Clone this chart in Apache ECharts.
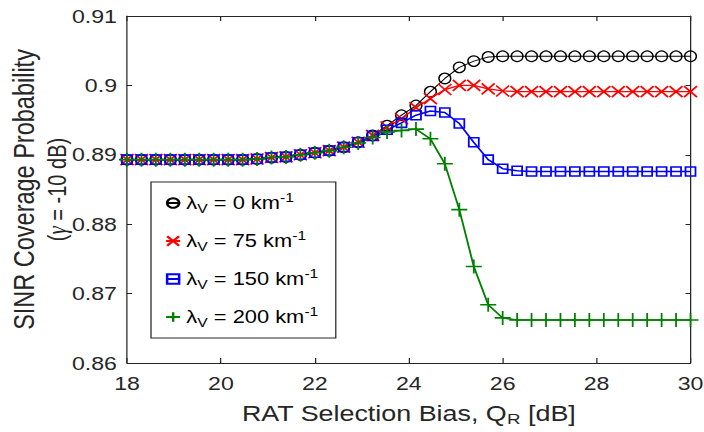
<!DOCTYPE html>
<html>
<head>
<meta charset="utf-8">
<script src="https://cdn.jsdelivr.net/npm/echarts@6/dist/echarts.min.js"></script>
<style>
  html, body { margin: 0; padding: 0; background: #fff; overflow: hidden; }
  /* the figure is laid out narrow and widened horizontally, like the exported plot */
  #chart { width: 563.2px; height: 432px; transform: scaleX(1.25); transform-origin: 0 0; }
</style>
</head>
<body>
<div id="chart"></div>
<script>
// RAT selection bias Q_R [dB] (40 evaluation points)
const biasDb = [
  18.000, 18.308, 18.615, 18.923, 19.231, 19.538, 19.846, 20.154, 20.462, 20.769,
  21.077, 21.385, 21.692, 22.000, 22.308, 22.615, 22.923, 23.231, 23.538, 23.846,
  24.154, 24.462, 24.769, 25.077, 25.385, 25.692, 26.000, 26.308, 26.615, 26.923,
  27.231, 27.538, 27.846, 28.154, 28.462, 28.769, 29.077, 29.385, 29.692, 30.000
];

// SINR coverage probability (gamma = -10 dB) for each vehicle density
const covLambda0 = [
  0.8893, 0.8893, 0.8893, 0.8893, 0.8893, 0.8893, 0.8893, 0.8893, 0.8893, 0.8894,
  0.8896, 0.8897, 0.8900, 0.8903, 0.8906, 0.8911, 0.8918, 0.8928, 0.8942, 0.8957,
  0.8971, 0.8991, 0.9010, 0.9026, 0.9035, 0.9041, 0.9042, 0.9042, 0.9042, 0.9042,
  0.9042, 0.9042, 0.9042, 0.9042, 0.9042, 0.9042, 0.9042, 0.9042, 0.9042, 0.9042
];
const covLambda75 = [
  0.8893, 0.8893, 0.8893, 0.8893, 0.8893, 0.8893, 0.8893, 0.8893, 0.8893, 0.8894,
  0.8896, 0.8897, 0.8900, 0.8903, 0.8906, 0.8911, 0.8918, 0.8928, 0.8940, 0.8952,
  0.8968, 0.8981, 0.8994, 0.9000, 0.9000, 0.8995, 0.8992, 0.8991, 0.8991, 0.8991,
  0.8991, 0.8991, 0.8991, 0.8991, 0.8991, 0.8991, 0.8991, 0.8991, 0.8991, 0.8991
];
const covLambda150 = [
  0.8893, 0.8893, 0.8893, 0.8893, 0.8893, 0.8893, 0.8893, 0.8893, 0.8893, 0.8894,
  0.8896, 0.8897, 0.8900, 0.8903, 0.8906, 0.8911, 0.8918, 0.8927, 0.8936, 0.8946,
  0.8957, 0.8963, 0.8961, 0.8945, 0.8918, 0.8893, 0.8880, 0.8877, 0.8876, 0.8876,
  0.8876, 0.8876, 0.8876, 0.8876, 0.8876, 0.8876, 0.8876, 0.8876, 0.8876, 0.8876
];
const covLambda200 = [
  0.8893, 0.8893, 0.8893, 0.8893, 0.8893, 0.8893, 0.8893, 0.8893, 0.8893, 0.8894,
  0.8896, 0.8897, 0.8900, 0.8903, 0.8906, 0.8911, 0.8917, 0.8925, 0.8933, 0.8935,
  0.8937, 0.8923, 0.8887, 0.8821, 0.8739, 0.8684, 0.8665, 0.8662, 0.8662, 0.8662,
  0.8662, 0.8662, 0.8662, 0.8662, 0.8662, 0.8662, 0.8662, 0.8662, 0.8662, 0.8662
];

// vehicle densities lambda_V [km^-1], one per curve
const densities = [0, 75, 150, 200];

const font = 'Liberation Sans';
const axisColor = '#262626';

const seriesNames = densities.map(d => 'λV = ' + d + ' km-1');

const pairs = ys => biasDb.map((x, i) => [x, ys[i]]);

function frameAxis(tickLen, extra) {
  return Object.assign({
    axisLine: { show: true, onZero: false, lineStyle: { color: axisColor, width: 1 } },
    axisTick: { show: true, inside: true, length: tickLen, lineStyle: { color: axisColor, width: 1 } },
    splitLine: { show: false }
  }, extra);
}

const tickLabel = { fontFamily: font, fontSize: 18.5, color: axisColor };

const chart = echarts.init(document.getElementById('chart'), null, { renderer: 'svg' });

chart.setOption({
  animation: false,
  backgroundColor: '#fff',
  grid: { left: 101.6, right: 10.6, top: 16, bottom: 69, containLabel: false, outerBoundsMode: 'none' },
  xAxis: [
    frameAxis(5, {
      type: 'value', min: 18, max: 30, interval: 2, position: 'bottom',
      axisLabel: Object.assign({ margin: 11 }, tickLabel),
      name: '{t|RAT Selection Bias, Q}{s|R}{t| [dB]}',
      nameLocation: 'middle',
      nameGap: 36,
      nameMoveOverlap: false,
      nameTextStyle: {
        rich: {
          t: { fontFamily: font, fontSize: 21.5, lineHeight: 28, color: axisColor },
          s: { fontFamily: font, fontSize: 15, lineHeight: 6, verticalAlign: 'bottom', color: axisColor }
        }
      }
    }),
    frameAxis(5, { type: 'value', min: 18, max: 30, interval: 2, position: 'top', axisLabel: { show: false } })
  ],
  yAxis: [
    frameAxis(4, {
      type: 'value', min: 0.86, max: 0.91, interval: 0.01, position: 'left',
      axisLabel: Object.assign({ margin: 8 }, tickLabel),
      name: '{a|SINR Coverage Probability}\n{b|(}{g|γ}{b| = -10 dB)}',
      nameLocation: 'middle',
      nameRotate: 90,
      nameGap: 42,
      nameMoveOverlap: false,
      nameTextStyle: {
        rich: {
          a: { fontFamily: font, fontSize: 23.5, lineHeight: 27, color: axisColor },
          b: { fontFamily: font, fontSize: 20, lineHeight: 27, color: axisColor },
          g: { fontFamily: 'Liberation Serif', fontStyle: 'italic', fontSize: 21, lineHeight: 27, color: axisColor }
        }
      }
    }),
    frameAxis(4, { type: 'value', min: 0.86, max: 0.91, interval: 0.01, position: 'right', axisLabel: { show: false } })
  ],
  legend: {
    orient: 'vertical',
    left: 120.8,
    top: 182,
    padding: [9, 14, 9, 10.4],
    itemGap: 14,
    itemWidth: 11.2,
    itemHeight: 12,
    backgroundColor: '#fff',
    borderColor: axisColor,
    borderWidth: 1,
    borderRadius: 0,
    data: seriesNames,
    formatter: name => {
      const d = densities[seriesNames.indexOf(name)];
      return '{g|λ}{s|V}{t| = ' + d + ' km}{p|-1}';
    },
    textStyle: {
      rich: {
        g: { fontFamily: font, fontSize: 17.5, lineHeight: 24, color: '#000' },
        t: { fontFamily: font, fontSize: 17.5, lineHeight: 24, color: '#000' },
        s: { fontFamily: font, fontSize: 12.5, lineHeight: 6, verticalAlign: 'bottom', color: '#000' },
        p: { fontFamily: font, fontSize: 12.5, lineHeight: 14, verticalAlign: 'top', color: '#000' }
      }
    }
  },
  series: [
    {
      name: seriesNames[0], type: 'line', data: pairs(covLambda0),
      showAllSymbol: true, symbol: 'circle', symbolSize: [9.4, 10.5],
      lineStyle: { color: '#000', width: 1 },
      itemStyle: { color: 'rgba(0,0,0,0)', borderColor: '#000', borderWidth: 1.2 }
    },
    {
      name: seriesNames[1], type: 'line', data: pairs(covLambda75),
      showAllSymbol: true, symbol: 'path://M0,0L12,10M12,0L0,10', symbolSize: [10.4, 11],
      lineStyle: { color: '#ff0000', width: 1.2 },
      itemStyle: { color: 'none', borderColor: '#ff0000', borderWidth: 1.5 }
    },
    {
      name: seriesNames[2], type: 'line', data: pairs(covLambda150),
      showAllSymbol: true, symbol: 'rect', symbolSize: [8, 9],
      lineStyle: { color: '#0000ff', width: 1.5 },
      itemStyle: { color: 'rgba(0,0,0,0)', borderColor: '#0000ff', borderWidth: 1.5 }
    },
    {
      name: seriesNames[3], type: 'line', data: pairs(covLambda200),
      showAllSymbol: true, symbol: 'path://M0,7L16,7M8,0L8,14', symbolSize: [12.8, 14],
      lineStyle: { color: '#008000', width: 1.5 },
      itemStyle: { color: 'none', borderColor: '#008000', borderWidth: 1.5 }
    }
  ]
});
</script>
</body>
</html>
